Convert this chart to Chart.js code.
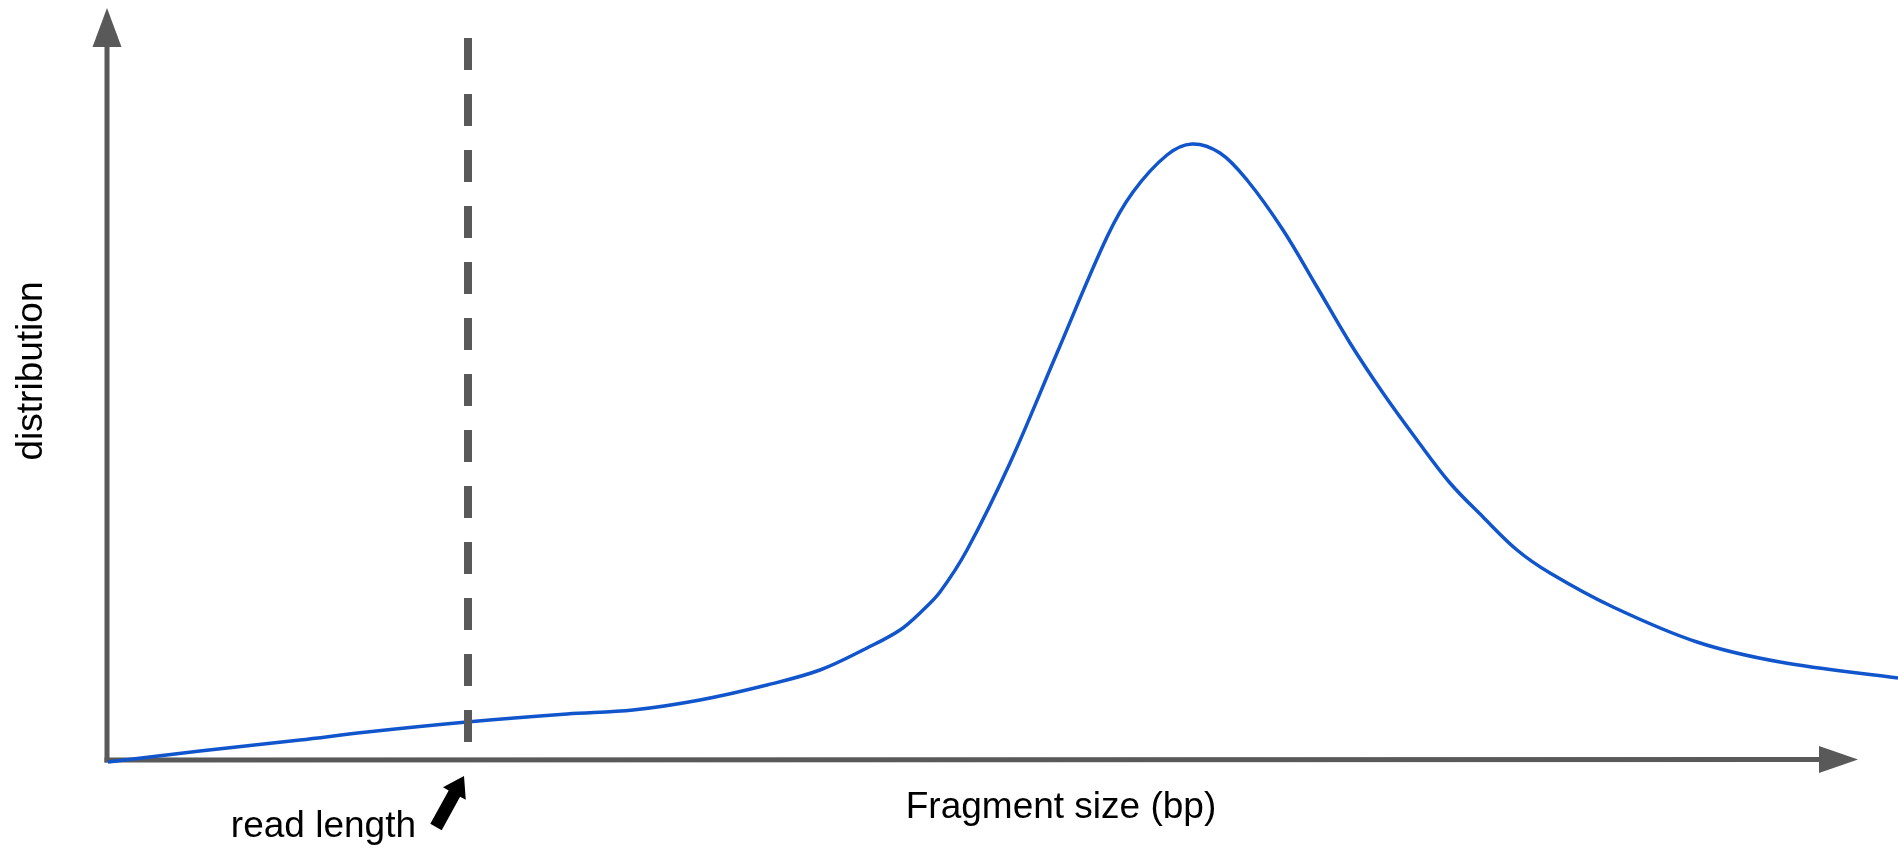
<!DOCTYPE html>
<html>
<head>
<meta charset="utf-8">
<title>Fragment size distribution</title>
<script src="https://cdn.jsdelivr.net/npm/chart.js@4"></script>
<style>
  html, body { margin: 0; padding: 0; background: #fff; }
  #wrap { width: 1898px; height: 850px; position: relative; }
</style>
</head>
<body>
<div id="wrap"><canvas id="grafico"></canvas></div>
<script>
// fragment size (arbitrary units, measured from the y axis)
const fragmentSize = [1, 93, 193, 260, 360, 460, 526, 593, 660, 713, 760, 793, 816, 833, 860, 903, 950, 1000,
  1026, 1060, 1085, 1113, 1140, 1176, 1210, 1243, 1276, 1310, 1343, 1376, 1410, 1443, 1506, 1590, 1673, 1791];
// distribution height (arbitrary units)
const distribution = [-2, 9, 20, 28, 38, 46, 50, 60, 75, 90, 112, 130, 150, 168, 210, 297, 407, 523,
  568, 605, 616, 607, 580, 530, 473, 417, 367, 320, 277, 243, 210, 187, 153, 118, 98, 82];

const readLength = 361;
const readLineRange = [722, 18];
const xRange = [0, 1791];
const yRange = [0, 760];
const xAxisEnd = 1712;
const yAxisEnd = 713;

const xLabel = "Fragment size (bp)";
const yLabel = "distribution";
const readLabel = "read length";

const axisColor = "#595959";
const font = "37px 'Liberation Sans', Arial, sans-serif";

const axesPlugin = {
  id: "ejes",
  beforeDatasetsDraw(chart) {
    const ctx = chart.ctx;
    const x = chart.scales.x;
    const y = chart.scales.y;
    const x0 = x.getPixelForValue(0);
    const y0 = y.getPixelForValue(0);
    const xEnd = x.getPixelForValue(xAxisEnd);
    const yEnd = y.getPixelForValue(yAxisEnd);

    ctx.save();
    ctx.strokeStyle = axisColor;
    ctx.fillStyle = axisColor;
    ctx.lineWidth = 5;
    ctx.lineCap = "butt";

    // eje y
    ctx.beginPath();
    ctx.moveTo(x0, y0 + 2.5);
    ctx.lineTo(x0, yEnd);
    ctx.stroke();
    ctx.beginPath();
    ctx.moveTo(x0 - 14.5, yEnd);
    ctx.lineTo(x0 + 14.5, yEnd);
    ctx.lineTo(x0, yEnd - 39);
    ctx.closePath();
    ctx.fill();

    // eje x
    ctx.beginPath();
    ctx.moveTo(x0 - 2.5, y0);
    ctx.lineTo(xEnd, y0 - 0.5);
    ctx.stroke();
    ctx.beginPath();
    ctx.moveTo(xEnd, y0 - 14);
    ctx.lineTo(xEnd, y0 + 13);
    ctx.lineTo(xEnd + 39, y0 - 0.5);
    ctx.closePath();
    ctx.fill();
    ctx.restore();
  },
  afterDraw(chart) {
    const ctx = chart.ctx;
    const x = chart.scales.x;
    const y = chart.scales.y;
    const y0 = y.getPixelForValue(0);
    const xRead = x.getPixelForValue(readLength);

    ctx.save();
    ctx.fillStyle = "#000";
    ctx.font = font;

    // texto de los ejes
    ctx.textAlign = "center";
    ctx.textBaseline = "alphabetic";
    ctx.fillText(xLabel, x.getPixelForValue(954), y0 + 58);

    ctx.save();
    ctx.translate(42, y.getPixelForValue(389));
    ctx.rotate(-Math.PI / 2);
    ctx.fillText(yLabel, 0, 0);
    ctx.restore();

    // flecha "read length"
    const tip = { x: xRead - 4, y: y0 + 16 };
    const tail = { x: xRead - 32, y: y0 + 67 };
    const dx = tip.x - tail.x;
    const dy = tip.y - tail.y;
    const len = Math.hypot(dx, dy);
    const ux = dx / len, uy = dy / len;
    const px = -uy, py = ux;
    const headLen = 20, headW = 13, shaftW = 6.5;
    const bx = tip.x - ux * headLen, by = tip.y - uy * headLen;

    ctx.beginPath();
    ctx.moveTo(tail.x + px * shaftW, tail.y + py * shaftW);
    ctx.lineTo(bx + px * shaftW, by + py * shaftW);
    ctx.lineTo(bx + px * headW, by + py * headW);
    ctx.lineTo(tip.x, tip.y);
    ctx.lineTo(bx - px * headW, by - py * headW);
    ctx.lineTo(bx - px * shaftW, by - py * shaftW);
    ctx.lineTo(tail.x - px * shaftW, tail.y - py * shaftW);
    ctx.closePath();
    ctx.fill();

    ctx.textAlign = "right";
    ctx.fillText(readLabel, xRead - 52, y0 + 77);
    ctx.restore();
  }
};

document.addEventListener("DOMContentLoaded", function () {
  const canvas = document.getElementById("grafico");

  const curva = fragmentSize.map((v, i) => ({ x: v, y: distribution[i] }));
  const lineaLectura = readLineRange.map(v => ({ x: readLength, y: v }));

  new Chart(canvas, {
    type: "line",
    data: {
      datasets: [
        {
          label: "read length",
          data: lineaLectura,
          borderColor: axisColor,
          borderWidth: 8,
          borderDash: [32, 24],
          borderCapStyle: "butt",
          pointRadius: 0,
          clip: false,
          order: 0
        },
        {
          label: "distribution",
          data: curva,
          borderColor: "#1155cc",
          borderWidth: 3.5,
          tension: 0.35,
          pointRadius: 0,
          fill: false,
          clip: false,
          order: 1
        }
      ]
    },
    options: {
      responsive: true,
      maintainAspectRatio: false,
      animation: false,
      events: [],
      layout: { padding: { left: 107, right: 0, top: 0, bottom: 90 } },
      plugins: {
        legend: { display: false },
        tooltip: { enabled: false },
        title: { display: false }
      },
      scales: {
        x: { type: "linear", display: false, min: xRange[0], max: xRange[1] },
        y: { type: "linear", display: false, min: yRange[0], max: yRange[1] }
      }
    },
    plugins: [axesPlugin]
  });
});
</script>
</body>
</html>
